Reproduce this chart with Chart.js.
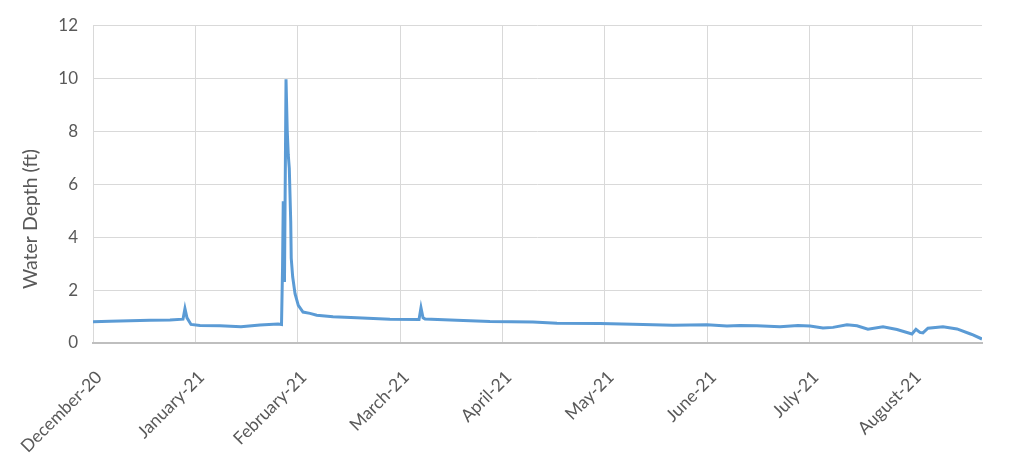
<!DOCTYPE html>
<html>
<head>
<meta charset="utf-8">
<script src="https://cdn.jsdelivr.net/npm/chart.js@4"></script>
<style>
  html, body { margin: 0; padding: 0; background: #ffffff; }
  #wrap { width: 1019px; height: 462px; }
</style>
</head>
<body>
<div id="wrap"><canvas id="c" width="1019" height="462"></canvas></div>
<script>
// Month tick labels (one gridline per month)
const monthLabels = ["December-20", "January-21", "February-21", "March-21", "April-21",
                     "May-21", "June-21", "July-21", "August-21"];
// Position of each reading, in months after the start of December 2020
const monthPos = [0, 0.166, 0.361, 0.557, 0.752, 0.879, 0.898, 0.918, 0.957, 1.045,
                  1.240, 1.445, 1.631, 1.807, 1.841, 1.851, 1.858, 1.870, 1.885, 1.897,
                  1.907, 1.917, 1.931, 1.936, 1.950, 1.973, 2.005, 2.051, 2.119, 2.185,
                  2.344, 2.575, 2.900, 3.184, 3.203, 3.223, 3.242, 3.552, 3.877, 4.297,
                  4.531, 4.951, 5.273, 5.664, 5.996, 6.191, 6.318, 6.484, 6.709, 6.885,
                  7.002, 7.129, 7.227, 7.363, 7.461, 7.568, 7.715, 7.852, 7.998, 8.037,
                  8.076, 8.105, 8.154, 8.301, 8.438, 8.564, 8.594, 8.682];
// Water depth (ft)
const depth = [0.80, 0.82, 0.84, 0.86, 0.87, 0.90, 1.30, 0.95, 0.70, 0.66,
               0.65, 0.61, 0.68, 0.72, 0.70, 2.80, 5.35, 2.30, 9.96, 8.00,
               7.10, 6.60, 4.60, 3.20, 2.50, 1.86, 1.42, 1.17, 1.12, 1.05,
               0.99, 0.95, 0.90, 0.89, 1.33, 0.95, 0.91, 0.86, 0.81, 0.79,
               0.75, 0.74, 0.71, 0.67, 0.69, 0.64, 0.66, 0.65, 0.61, 0.66,
               0.64, 0.57, 0.59, 0.69, 0.65, 0.52, 0.61, 0.51, 0.34, 0.52,
               0.40, 0.38, 0.56, 0.61, 0.53, 0.35, 0.31, 0.15];
const yTicks = [0, 2, 4, 6, 8, 10, 12];
const xMax = 8.682;

const points = monthPos.map((m, i) => ({ x: m, y: depth[i] }));

const textColor = '#595959';
const fontFamily = 'Lato, "Open Sans", "Liberation Sans", sans-serif';

const yTitlePlugin = {
  id: 'yTitle',
  afterDraw(chart) {
    const ctx = chart.ctx;
    ctx.save();
    ctx.translate(31, 219);
    ctx.rotate(-Math.PI / 2);
    ctx.textAlign = 'center';
    ctx.textBaseline = 'middle';
    ctx.fillStyle = textColor;
    ctx.font = '19.5px ' + fontFamily;
    ctx.fillText('Water Depth (ft)', 0, 0);
    ctx.restore();
  }
};

new Chart(document.getElementById('c'), {
  type: 'line',
  data: {
    datasets: [{
      data: points,
      borderColor: '#5b9bd5',
      borderWidth: 3,
      pointRadius: 0,
      tension: 0,
      fill: false
    }]
  },
  options: {
    responsive: false,
    animation: false,
    layout: { padding: { top: 22, right: 37, left: 0, bottom: 0 } },
    plugins: { legend: { display: false }, tooltip: { enabled: false } },
    scales: {
      x: {
        type: 'linear',
        min: 0,
        max: xMax,
        afterBuildTicks: (scale) => { scale.ticks = monthLabels.map((_, i) => ({ value: i })); },
        afterFit: (scale) => { scale.height = 119; scale.paddingLeft = 0; scale.paddingRight = 0; },
        ticks: {
          autoSkip: false,
          minRotation: 45,
          maxRotation: 45,
          padding: 24,
          labelOffset: 6,
          color: textColor,
          font: { family: fontFamily, size: 17.5 },
          callback: (v) => monthLabels[v]
        },
        grid: { color: '#d9d9d9', lineWidth: 1, drawTicks: false },
        border: { color: '#bfbfbf', width: 2 }
      },
      y: {
        min: 0,
        max: 12,
        afterBuildTicks: (scale) => { scale.ticks = yTicks.map(v => ({ value: v })); },
        afterFit: (scale) => { scale.width = 93; },
        ticks: {
          padding: 15,
          color: textColor,
          font: { family: fontFamily, size: 17 }
        },
        grid: { color: '#d9d9d9', lineWidth: 1, drawTicks: false },
        border: { display: false }
      }
    }
  },
  plugins: [yTitlePlugin]
});
</script>
</body>
</html>
